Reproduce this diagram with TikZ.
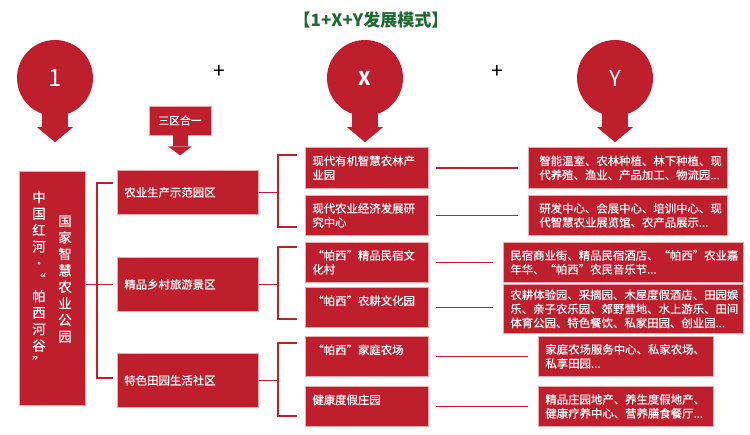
\documentclass[tikz,border=0pt]{standalone}
\usepackage{fontspec}
\setmainfont{Noto Sans CJK SC}
\newfontfamily\boxfont{Noto Sans CJK SC}[FakeBold=0.5]
\usetikzlibrary{calc}
\definecolor{redc}{RGB}{191,30,45}
\definecolor{edgec}{RGB}{236,170,175}
\definecolor{titlec}{RGB}{30,105,50}
\begin{document}
\begin{tikzpicture}[x=1pt,y=-1pt,
  box/.style={fill=redc, draw=edgec, line width=0.7pt, anchor=north west, text=white,
    align=left, font=\boxfont\fontsize{11.4}{14}\selectfont, inner ysep=0pt},
  xbox/.style={box, inner xsep=7pt, text width=109pt, minimum height=#1},
  mbox/.style={box, inner xsep=7pt, text width=127pt, minimum height=#1},
  conn/.style={draw=redc, line width=1.4pt},
  circ/.style={circle, fill=redc, minimum size=76pt, inner sep=0pt, text=white},
  vtext/.style={text=white, align=center, inner sep=0pt, font=\boxfont\fontsize{13.5}{16.5}\selectfont},
  plus/.style={font=\fontsize{21}{21}\selectfont, text=black, inner sep=0pt},
  pics/bigarrow/.style={code={
    \fill[redc] (-13,-6) rectangle (13,11);
    \fill[redc] (-18,11) -- (18,11) -- (0,26) -- cycle;}},
  pics/smallarrow/.style={code={
    \fill[redc] (-7.5,-1) rectangle (7.5,11);
    \fill[redc] (-12,11) -- (12,11) -- (0,20) -- cycle;}}
]
\fill[white] (0,0) rectangle (750,434);
\useasboundingbox (0,0) rectangle (750,434);

% title
\node[text=titlec, font=\fontsize{17}{17}\selectfont\bfseries] (title) at (371,20) {【1+X+Y发展模式】};

% circles
\node[circ, font=\fontsize{24}{24}\selectfont] (c1) at (55,78) {1};
\node[circ, font=\fontsize{19}{19}\selectfont\bfseries] (cx) at (365,78) {X};
\node[circ, font=\fontsize{22}{22}\selectfont] (cy) at (615,78) {Y};
\pic at (c1.south) {bigarrow};
\pic at (cx.south) {bigarrow};
\pic at (cy.south) {bigarrow};
\node[plus] (p1) at (219,72) {+};
\node[plus] (p2) at (497,72) {+};

% 三区合一
\node[fill=redc, draw=edgec, line width=0.7pt, text=white, minimum width=62pt, minimum height=29pt,
  inner sep=0pt, font=\boxfont\fontsize{10.8}{12}\selectfont] (s) at (180,120.5) {三区合一};
\pic at (s.south) {smallarrow};

% left box
\node[fill=redc, draw=edgec, line width=0.7pt, anchor=north west, minimum width=66pt,
  minimum height=234pt, inner sep=0pt] (L) at (19,171) {};
\node[vtext] (lt1) at (39,279) {中\\国\\红\\河\\·\\“\\帕\\西\\河\\谷\\”};
\node[vtext] (lt2) at (65,279) {国\\家\\智\\慧\\农\\业\\公\\园};

% middle boxes
\node[mbox=44pt] (m1) at (117,170) {农业生产示范园区};
\node[mbox=54pt] (m2) at (117,257) {精品乡村旅游景区};
\node[mbox=54pt] (m3) at (117,353) {特色田园生活社区};

% X boxes
\node[xbox=41pt] (x1) at (305,147) {现代有机智慧农林产\\业园};
\node[xbox=40pt] (x2) at (305,195) {现代农业经济发展研\\究中心};
\node[xbox=40pt] (x3) at (305,242) {“帕西”精品民宿文\\化村};
\node[xbox=40pt] (x4) at (305,287) {“帕西”农耕文化园\\~};
\node[xbox=40pt] (x5) at (305,336) {“帕西”家庭农场\\~};
\node[xbox=40pt] (x6) at (305,386) {健康度假庄园\\~};

% Y boxes
\node[box, inner xsep=11pt, text width=177pt, minimum height=41pt] (y1) at (528,147)
  {智能温室、农林种植、林下种植、现\\代养殖、渔业、产品加工、物流园...};
\node[box, inner xsep=11pt, text width=177pt, minimum height=40pt] (y2) at (528,195)
  {研发中心、会展中心、培训中心、现\\代智慧农业展览馆、农产品展示...};
\node[box, inner xsep=7pt, text width=226pt, minimum height=40pt] (y3) at (503,242)
  {民宿商业街、精品民宿酒店、“帕西”农业嘉\\年华、“帕西”农民音乐节...};
\node[box, inner xsep=7pt, text width=226pt, minimum height=49pt] (y4) at (503,284)
  {农耕体验园、采摘园、木屋度假酒店、田园娱\\乐、亲子农乐园、郊野营地、水上游乐、田间\\体育公园、特色餐饮、私家田园、创业园...};
\node[box, inner xsep=7pt, text width=161pt, minimum height=40pt] (y5) at (538,336)
  {家庭农场服务中心、私家农场、\\私享田园...};
\node[box, inner xsep=7pt, text width=161pt, minimum height=40pt] (y6) at (538,386)
  {精品庄园地产、养生度假地产、\\健康疗养中心、营养膳食餐厅...};

% left bracket
\coordinate (lsT) at (97,183);
\coordinate (lsB) at (97,378);
\coordinate (lsTe) at (113,183);
\coordinate (lsBe) at (113,378);
\draw[conn] (lsTe) -- (lsT) -- (lsB) -- (lsBe);
\draw[conn] (L.east |- m2.west) -- ($(m2.west)+(-4,0)$);

% right brackets
\coordinate (b1T) at (278,155); \coordinate (b1B) at (278,227);
\coordinate (b1Te) at (297,155); \coordinate (b1Be) at (297,227);
\draw[conn] (m1.east) -- (m1.east -| b1T);
\draw[conn] (b1Te) -- (b1T) -- (b1B) -- (b1Be);
\coordinate (b2T) at (278,247); \coordinate (b2B) at (278,319);
\coordinate (b2Te) at (297,247); \coordinate (b2Be) at (297,319);
\draw[conn] (m2.east) -- (m2.east -| b2T);
\draw[conn] (b2Te) -- (b2T) -- (b2B) -- (b2Be);
\coordinate (b3T) at (278,343); \coordinate (b3B) at (278,416);
\coordinate (b3Te) at (297,343); \coordinate (b3Be) at (297,416);
\draw[conn] (m3.east) -- (m3.east -| b3T);
\draw[conn] (b3Te) -- (b3T) -- (b3B) -- (b3Be);

% X -> Y lines
\foreach \i in {1,...,6}{
  \coordinate (e\i) at ($(y\i.west)+(-10,0)$);
  \draw[conn] ($(x\i.east)+(7,0)$) -- (e\i |- x\i.east);
}
\end{tikzpicture}
\end{document}
